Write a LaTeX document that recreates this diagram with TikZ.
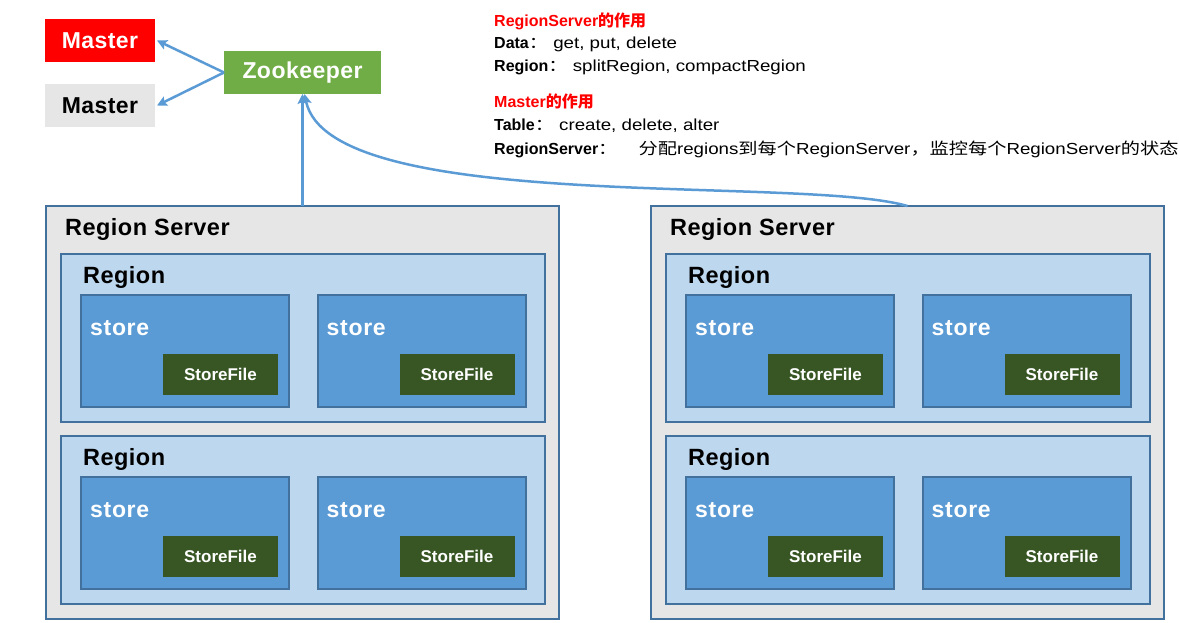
\documentclass[tikz,border=0pt]{standalone}
\usepackage{fontspec}
\setmainfont{Liberation Sans}
\newfontfamily\cjk{Noto Sans CJK SC}
\newfontfamily\wide{Liberation Sans}[FakeStretch=1.17]
\newfontfamily\cjkwide{Noto Sans CJK SC}[FakeStretch=1.2]
\usetikzlibrary{arrows.meta}
\definecolor{edgec}{HTML}{41719C}
\definecolor{rsfill}{HTML}{E6E6E6}
\definecolor{rgfill}{HTML}{BDD7EE}
\definecolor{stfill}{HTML}{5B9BD5}
\definecolor{sffill}{HTML}{375623}
\definecolor{zkfill}{HTML}{70AD47}
\definecolor{arrowc}{HTML}{5B9BD5}
\definecolor{redc}{HTML}{FF0000}
\tikzset{
  box/.style={anchor=north west, inner sep=0pt, outer sep=0pt},
  rsbox/.style={box, draw=edgec, line width=2pt, fill=rsfill, minimum width=513pt, minimum height=413pt},
  rgbox/.style={box, draw=edgec, line width=2pt, fill=rgfill, minimum width=484pt, minimum height=168pt},
  stbox/.style={box, draw=edgec, line width=2pt, fill=stfill, minimum width=208pt, minimum height=112pt},
  sfbox/.style={box, fill=sffill, minimum width=115pt, minimum height=41pt, text=white, font=\bfseries\fontsize{17}{17}\selectfont},
  lab/.style={anchor=base west, inner sep=0pt, font=\bfseries\fontsize{23.5}{23.5}\selectfont\addfontfeatures{LetterSpace=2}},
  stlab/.style={anchor=base west, inner sep=0pt, text=white, font=\bfseries\fontsize{23}{23}\selectfont\addfontfeatures{LetterSpace=3}},
  topbox/.style={box, minimum width=110pt, minimum height=43pt, font=\bfseries\fontsize{23}{23}\selectfont\addfontfeatures{LetterSpace=2}},
  txt/.style={anchor=base west, inner sep=0pt, font=\wide\fontsize{16}{16}\selectfont},
  ttl/.style={anchor=base west, inner sep=0pt, text=redc, font=\bfseries\fontsize{16}{16}\selectfont},
  conn/.style={draw=arrowc, line width=2.5pt, -{Stealth[length=10pt,width=10pt,inset=2pt]}},
}
\newcommand\key[1]{{\normalfont\bfseries #1}{\cjkwide ：}\ }
\newcommand\zh[1]{{\cjkwide #1}}
\newcommand\rsrv[2]{%
  \node[rsbox] (#1) at (#2,206) {};
  \node[lab] (#1-lab) at ({#2+19},235) {Region Server};
  \foreach \r/\ry in {1/254,2/436} {
    \node[rgbox] (#1-r\r) at ({#2+15},\ry) {};
    \node[lab] (#1-r\r-lab) at ({#2+37},{\ry+29}) {Region};
    \foreach \s/\sx in {1/35,2/271.5} {
      \node[stbox] (#1-r\r-s\s) at ({#2+\sx},{\ry+41}) {};
      \node[stlab] (#1-r\r-s\s-lab) at ({#2+\sx+9},{\ry+81}) {store};
      \node[sfbox] (#1-r\r-s\s-f) at ({#2+\sx+82},{\ry+100}) {StoreFile};
    }
  }
}
\begin{document}
\begin{tikzpicture}[x=1pt,y=-1pt]
\useasboundingbox (0,0) rectangle (1180,623);
\fill[white] (0,0) rectangle (1180,623);
% top nodes
\node[topbox, fill=redc, text=white] (m1) at (45,19) {Master};
\node[topbox, fill=rsfill, text=black] (m2) at (45,84) {Master};
\node[topbox, fill=zkfill, text=white, minimum width=157pt] (zk) at (224,51) {Zookeeper};
% servers
\rsrv{rsL}{46}
\rsrv{rsR}{651}
% connectors
\draw[conn] (zk.west) -- ([xshift=2pt]m1.east);
\draw[conn] (zk.west) -- ([xshift=2pt]m2.east);
\draw[conn] (rsL.north) -- (zk.south);
\draw[conn] (rsR.north) .. controls (800,175) and (330,215) .. ([xshift=2pt]zk.south);
% text block
\node[ttl] (t1) at (494,27) {RegionServer{\cjk 的作用}};
\node[txt] (t2) at (494,49) {\key{Data}get, put, delete};
\node[txt] (t3) at (494,72) {\key{Region}splitRegion, compactRegion};
\node[ttl] (t4) at (494,108) {Master{\cjk 的作用}};
\node[txt] (t5) at (494,131) {\key{Table}create, delete, alter};
\node[txt] (t6) at (494,154) {\key{RegionServer}\hspace{16pt}\zh{分配}regions\zh{到每个}RegionServer\zh{，监控每个}RegionServer\zh{的状态}};
\end{tikzpicture}
\end{document}
